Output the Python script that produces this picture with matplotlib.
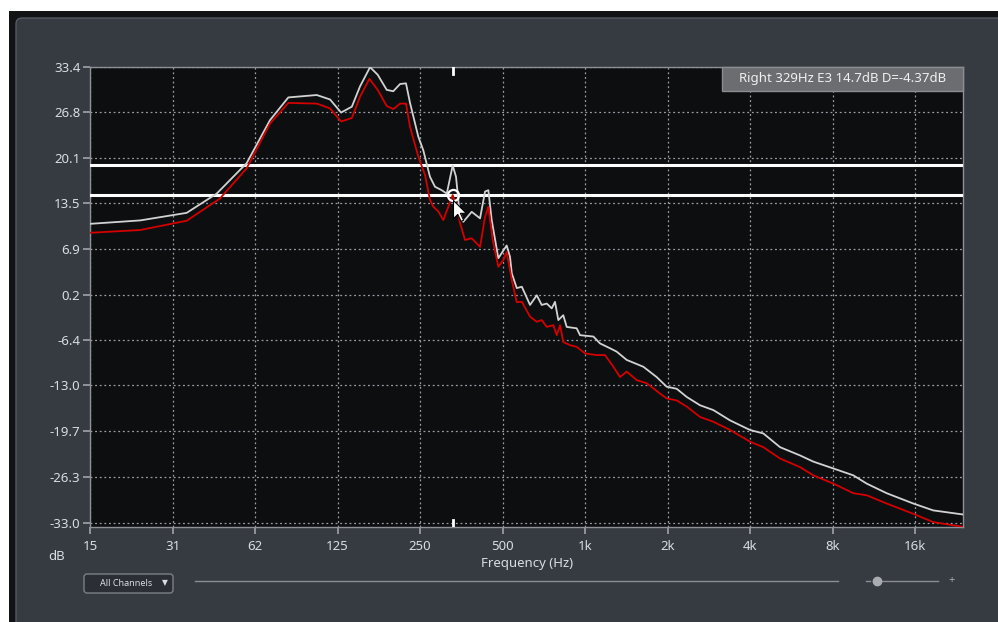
import matplotlib
matplotlib.use('Agg')
import matplotlib.pyplot as plt
from matplotlib.patches import FancyBboxPatch, Rectangle
from matplotlib.path import Path

# Spectrum readings (Hz, dB) - white = left channel, red = right channel
white_hz = [15.6, 23.8, 35.2, 45.3, 58.3, 70.9, 82.7, 105, 117.4, 128.8, 141, 151, 164.3, 175.2,
            189, 199.7, 211.4, 222.2, 229.9, 246.4, 257, 271.8, 283.5, 300, 313, 329, 338.3,
            347.8, 359.7, 386, 414, 431.7, 443.9, 456.6, 482.7, 496.5, 517.8, 532.5, 540.5,
            563.5, 588, 630, 666.7, 695, 725, 756, 777, 799, 833, 857.5, 932.5, 959, 1073,
            1134, 1233, 1305, 1419, 1633, 1826, 1986, 2160, 2352, 2628, 2939, 3382, 4000,
            4473, 5148, 6088, 6807, 8056, 9528, 10660, 12610, 15770, 18640, 24000]
white_db = [10.5, 11.0, 12.1, 14.9, 19.35, 25.6, 28.9, 29.25, 28.6, 26.7, 27.55, 30.5, 33.3, 32.2,
            30.0, 29.8, 30.85, 30.95, 28.1, 23.2, 21.2, 17.35, 15.9, 15.4, 14.9, 19.0, 17.35,
            12.5, 10.8, 12.25, 11.3, 15.2, 15.4, 11.05, 5.5, 6.25, 7.35, 5.7, 3.3,
            1.15, 1.35, -1.3, 0.1, -1.3, -1.1, -1.8, -0.85, -3.5, -2.8, -4.5, -4.7, -5.7, -5.9,
            -6.9, -7.6, -8.1, -9.3, -10.3, -11.8, -13.2, -13.5, -14.7, -15.9, -16.6, -18.1, -19.5,
            -20.0, -22.0, -23.2, -24.1, -25.1, -26.1, -27.3, -28.7, -30.2, -31.2, -31.8]

red_hz = [15.6, 23.8, 35.2, 46.6, 58.3, 70.9, 82.7, 105, 117.4, 128.8, 141, 151, 163.3, 175.2,
          189, 199.7, 211.4, 222.2, 229.9, 246.4, 260.8, 271.8, 279.5, 291.7, 304, 329, 340.5,
          350, 364.9, 386, 414, 431.7, 443.9, 460.5, 482.7, 503.5, 517.8, 540.5, 563.5, 588,
          630, 666.7, 695, 725, 766.4, 788.5, 810.5, 833, 881.6, 932.5, 1000, 1103, 1183,
          1269, 1342, 1419, 1545, 1680, 1878, 1986, 2160, 2352, 2628, 2939, 3382, 4000, 4473,
          5148, 6088, 6807, 8056, 9528, 10660, 12610, 15770, 18640, 24000]
red_db = [9.2, 9.6, 10.95, 14.2, 18.6, 25.1, 28.1, 28.0, 27.3, 25.4, 25.9, 29.0, 31.6, 30.0,
          27.65, 27.2, 28.0, 28.0, 24.6, 20.3, 17.6, 14.0, 13.0, 12.3, 11.05, 14.7, 13.0,
          10.6, 8.15, 8.4, 7.15, 11.5, 13.0, 8.15, 4.25, 5.25, 6.4, 2.3, -0.9, -0.85,
          -3.0, -3.75, -3.5, -4.5, -4.25, -5.7, -4.25, -6.7, -7.15, -7.4, -8.35, -8.6, -8.6,
          -10.3, -11.8, -11.0, -12.25, -12.7, -14.2, -14.9, -15.2, -16.1, -17.6, -18.3, -19.5, -21.2, -22.0,
          -23.65, -24.9, -26.1, -27.3, -28.7, -29.0, -30.2, -31.7, -32.9, -33.6]

x_ticks = [15.625, 31.25, 62.5, 125, 250, 500, 1000, 2000, 4000, 8000, 16000]
x_labels = ['15', '31', '62', '125', '250', '500', '1k', '2k', '4k', '8k', '16k']
y_ticks = [33.4, 26.8, 20.1, 13.5, 6.9, 0.2, -6.4, -13.0, -19.7, -26.3, -33.0]
y_labels = ['33.4', '26.8', '20.1', '13.5', '6.9', '0.2', '-6.4', '-13.0', '-19.7', '-26.3', '-33.0']

cursor_hz = 329
cursor_db = 14.7
delta_db = -4.37
info = 'Right 329Hz E3 14.7dB D=-4.37dB'

PANEL = '#363a41'
PLOT_BG = '#0d0e10'
TXT = '#d8dde5'
GRID = '#9a9da3'

plt.rcParams['font.family'] = ['Noto Sans', 'DejaVu Sans']

W, H = 998, 622
fig = plt.figure(figsize=(W / 100, H / 100), dpi=100)
fig.patch.set_facecolor('white')

# background / window chrome in pixel coordinates
bg = fig.add_axes([0, 0, 1, 1])
bg.set_xlim(0, W)
bg.set_ylim(H, 0)
bg.axis('off')
bg.add_patch(Rectangle((9, 11), W, H, facecolor='#121315', edgecolor='none'))
bg.add_patch(FancyBboxPatch((16, 18), 1000, 640, boxstyle='round,pad=0,rounding_size=6',
                            facecolor=PANEL, edgecolor='#555a62', lw=1))

# bottom controls
bg.add_patch(FancyBboxPatch((84, 574), 89, 19, boxstyle='round,pad=0,rounding_size=3',
                            facecolor='#2b2e34', edgecolor='#7b7f86', lw=1))
bg.text(126, 584, 'All Channels', color=TXT, fontsize=6.5, ha='center', va='center')
bg.text(165, 584, '\u25bc', color=TXT, fontsize=5.5, ha='center', va='center')
bg.plot([195, 838], [581, 581], color='#8a8d93', lw=1)
bg.plot([866, 870], [581, 581], color='#8a8d93', lw=1)
bg.plot([873, 938], [581, 581], color='#8a8d93', lw=1)
bg.plot([877], [581], 'o', color='#a9acb1', ms=6)
bg.text(952, 581, '+', color='#a9acb1', fontsize=8, ha='center', va='center')

bg.text(57, 557, 'dB', color=TXT, fontsize=9.5, ha='center', va='center')

# spectrum plot
ax = fig.add_axes([90 / W, 1 - 527.3 / H, (963.3 - 90) / W, (527.3 - 66.5) / H])
ax.set_facecolor(PLOT_BG)
ax.set_xscale('log')
ax.set_xlim(15.625, 24000)
ax.set_ylim(-33.66, 33.4)

ax.set_xticks(x_ticks)
ax.set_xticklabels(x_labels)
ax.minorticks_off()
ax.set_yticks(y_ticks)
ax.set_yticklabels(y_labels)
ax.tick_params(colors='#a0a4aa', labelcolor=TXT, labelsize=9.5, length=5, width=1.2, direction='out')
ax.tick_params(axis='x', pad=4)
ax.tick_params(axis='y', pad=2)
ax.grid(True, color=GRID, linestyle=(0, (1.5, 2.2)), lw=0.9)
for s in ax.spines.values():
    s.set_color('#8e9196')
    s.set_linewidth(1)
ax.set_xlabel('Frequency (Hz)', color=TXT, fontsize=9.5, labelpad=3)

# threshold lines from cursor value and difference
ax.axhline(cursor_db, color='white', lw=2.2, zorder=3)
ax.axhline(cursor_db - delta_db, color='white', lw=2.2, zorder=3)

ax.plot(white_hz, white_db, color='#d2d2d2', lw=1.3, zorder=4)
ax.plot(red_hz, red_db, color='#d40000', lw=1.3, zorder=4)

# cursor markers at top and bottom edges
ax.axvline(cursor_hz, ymin=0.984, ymax=1, color='white', lw=2, zorder=5)
ax.axvline(cursor_hz, ymin=0, ymax=0.016, color='white', lw=2, zorder=5)

ax.plot([cursor_hz], [cursor_db], 'o', mfc='none', mec='white', mew=1.6, ms=8, zorder=6)
arrow = Path([(0, 0), (0, -17), (4, -13), (7, -19.5), (9.5, -18.5), (6.5, -12), (12, -12), (0, 0)],
             [Path.MOVETO] + [Path.LINETO] * 6 + [Path.CLOSEPOLY])
ax.plot([cursor_hz], [cursor_db - 0.8], marker=arrow, ms=30, mfc='white', mec='black', mew=0.8, zorder=7)

# readout box in the top right corner
ax.add_patch(Rectangle((0.7237, 0.9468), 0.2763, 0.0532, transform=ax.transAxes,
                       facecolor='#6b6d71', edgecolor='#8a8c90', lw=1, zorder=8, clip_on=False))
ax.text(0.862, 0.9734, info, transform=ax.transAxes, ha='center', va='center', color='#f0f0f0',
        fontsize=9.5, zorder=9)

fig.savefig('out.png', dpi=100, facecolor=fig.get_facecolor())
